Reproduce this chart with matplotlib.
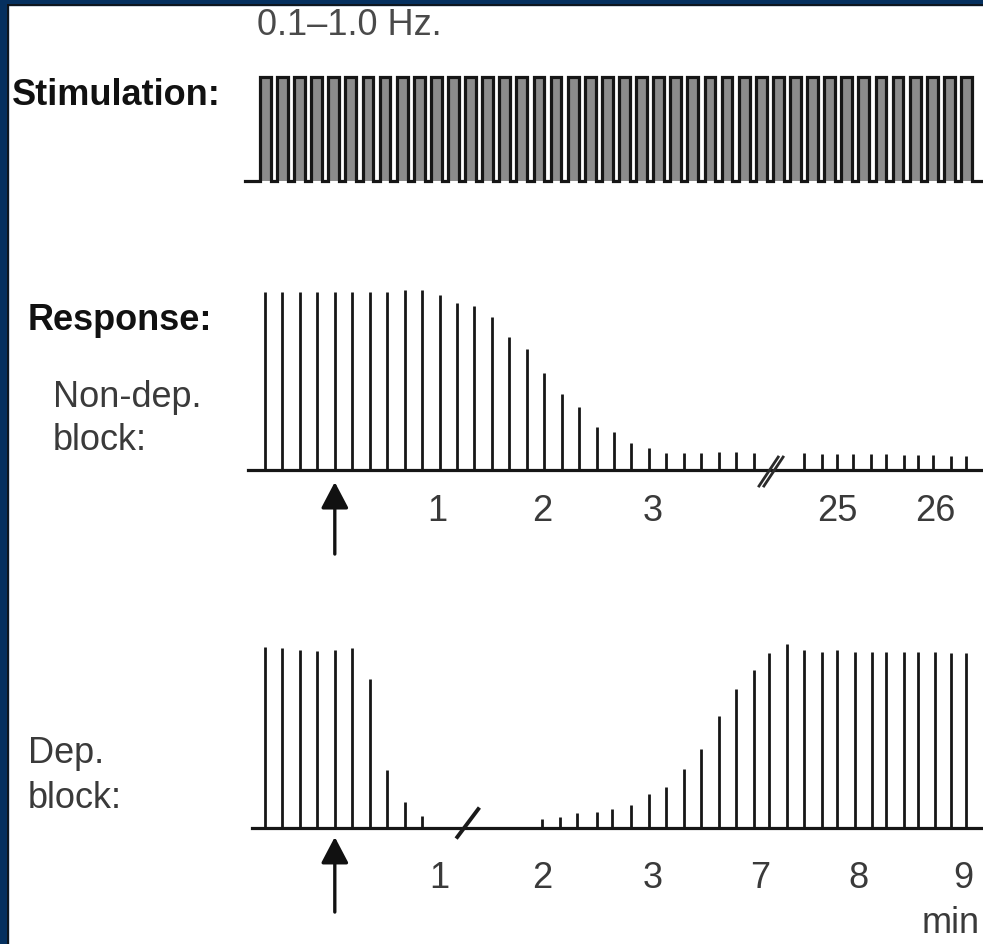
import numpy as np
import matplotlib.pyplot as plt
from matplotlib.patches import Rectangle

plt.rcParams['font.family'] = ['Liberation Sans', 'DejaVu Sans']

# stimulation train (x unit = one response interval)
stim_n = 42
stim_period = 0.98
stim_first = -0.29
stim_width = 0.62

# non-depolarizing block, response amplitude in % of control
nondep_pre = [99, 99, 99, 99, 99, 99, 99, 99, 100, 100, 97, 93, 91, 85, 74, 67,
              54, 42, 35, 24, 21, 15, 12, 9.5, 9.5, 9.5, 10, 10, 9.5]
nondep_post_x = [30.9, 31.9, 32.8, 33.7, 34.7, 35.6, 36.6, 37.4, 38.3, 39.3, 40.2]
nondep_post = [9.5, 9, 9, 9, 9, 9, 8.5, 8.5, 8.5, 8, 8]
nondep_ticks = [9.9, 15.9, 22.2, 32.8, 38.4]
nondep_labels = ['1', '2', '3', '25', '26']
nondep_break = 29.0

# depolarizing block
dep_pre = [100.5, 100, 99, 98.5, 99, 100, 83, 32, 14.5, 6.5]
dep_post_x = [15.9, 16.9, 17.9, 19.0, 19.9, 21.0, 22.0, 23.0, 24.0, 25.0, 26.0, 27.0,
              28.0, 28.9, 29.9, 30.9, 31.9, 32.8, 33.8, 34.8, 35.6, 36.6, 37.4,
              38.4, 39.3, 40.2]
dep_post = [5, 6, 8.5, 9, 10.5, 13, 19, 23, 33, 44, 62, 77, 88, 97, 102, 99, 98,
            99, 98, 98, 98, 98, 98, 98, 97, 97]
dep_ticks = [10.0, 15.9, 22.2, 28.4, 34.0, 40.0]
dep_labels = ['1', '2', '3', '7', '8', '9']
dep_break = 11.6

drug_at = 4  # pulse where the drug is given

W, H = 983, 945
fig = plt.figure(figsize=(W / 100, H / 100), dpi=100)
fig.patch.set_facecolor('white')


def px_axes(top, bottom):
    ax = fig.add_axes([240 / W, 1 - bottom / H, (W - 240) / W, (bottom - top) / H])
    ax.set_xlim(-1.433, 41.146)
    ax.axis('off')
    return ax


def fx(x):
    return x / W


def fy(y):
    return 1 - y / H


# navy frame on left and top
fig.patches.append(Rectangle((0, 0), 8 / W, 1, transform=fig.transFigure,
                             color='#05305f', zorder=0))
fig.patches.append(Rectangle((0, 1 - 6 / H), 1, 6 / H, transform=fig.transFigure,
                             color='#05305f', zorder=0))
fig.add_artist(plt.Line2D([8 / W, 8 / W], [0, 1 - 6 / H], color='#111111', lw=1.2))
fig.add_artist(plt.Line2D([8 / W, 1], [1 - 6 / H, 1 - 6 / H], color='#111111', lw=1.2))

# stimulation
ax_s = px_axes(60, 200)
ax_s.set_ylim(-0.173, 1.173)
xs, ys = [-1.15], [0]
for i in range(stim_n):
    on = stim_first + i * stim_period
    xs += [on, on, on + stim_width, on + stim_width]
    ys += [0, 1, 1, 0]
    ax_s.fill_between([on, on + stim_width], 0, 1, color='#8c8c8c', lw=0)
xs.append(41.2)
ys.append(0)
ax_s.plot(xs, ys, color='#161616', lw=2.3, solid_joinstyle='miter')


def response(ax, pre, post_x, post, start):
    ax.plot([start, 41.2], [0, 0], color='#161616', lw=2.3)
    ax.vlines(np.arange(len(pre)), 0, pre, color='#161616', lw=2.0)
    ax.vlines(post_x, 0, post, color='#161616', lw=2.0)


ax_n = px_axes(270, 600)
ax_n.set_ylim(-71.67, 111.67)
response(ax_n, nondep_pre, nondep_post_x, nondep_post, -0.97)
for off in (-0.14, 0.14):
    ax_n.plot([nondep_break + off - 0.55, nondep_break + off + 0.55], [-8.9, 7.2],
              color='#2a2a2a', lw=2.0)
for x, lab in zip(nondep_ticks, nondep_labels):
    ax_n.text(x, -27.8, lab, ha='center', va='baseline', fontsize=26, color='#3a3a3a')
ax_n.annotate('', xy=(drug_at, -6.7), xytext=(drug_at, -46.7),
              arrowprops=dict(arrowstyle='-|>,head_length=0.8,head_width=0.42',
                              lw=2.4, color='#111111', mutation_scale=20,
                              shrinkA=0, shrinkB=0))

ax_d = px_axes(620, 945)
ax_d.set_ylim(-64.44, 116.1)
response(ax_d, dep_pre, dep_post_x, dep_post, -0.74)
ax_d.plot([dep_break - 0.58, dep_break + 0.62], [-5, 10.5], color='#1a1a1a', lw=2.8)
for x, lab in zip(dep_ticks, dep_labels):
    ax_d.text(x, -32.8, lab, ha='center', va='baseline', fontsize=26, color='#3a3a3a')
ax_d.text(39.3, -57.5, 'min', ha='center', va='baseline', fontsize=26, color='#3a3a3a')
ax_d.annotate('', xy=(drug_at, -5), xytext=(drug_at, -46.7),
              arrowprops=dict(arrowstyle='-|>,head_length=0.8,head_width=0.42',
                              lw=2.4, color='#111111', mutation_scale=20,
                              shrinkA=0, shrinkB=0))

# labels
fig.text(fx(257), fy(35), '0.1\u20131.0 Hz.', fontsize=26, color='#4a4a4a', va='baseline')
fig.text(fx(12), fy(105), 'Stimulation:', fontsize=26, fontweight='bold', color='#111111',
         va='baseline')
fig.text(fx(28), fy(330), 'Response:', fontsize=26, fontweight='bold', color='#111111',
         va='baseline')
fig.text(fx(53), fy(407), 'Non-dep.', fontsize=26, color='#3a3a3a', va='baseline')
fig.text(fx(53), fy(450), 'block:', fontsize=26, color='#3a3a3a', va='baseline')
fig.text(fx(28), fy(763), 'Dep.', fontsize=26, color='#3a3a3a', va='baseline')
fig.text(fx(28), fy(808), 'block:', fontsize=26, color='#3a3a3a', va='baseline')

fig.savefig('out.png', dpi=100, facecolor='white')
